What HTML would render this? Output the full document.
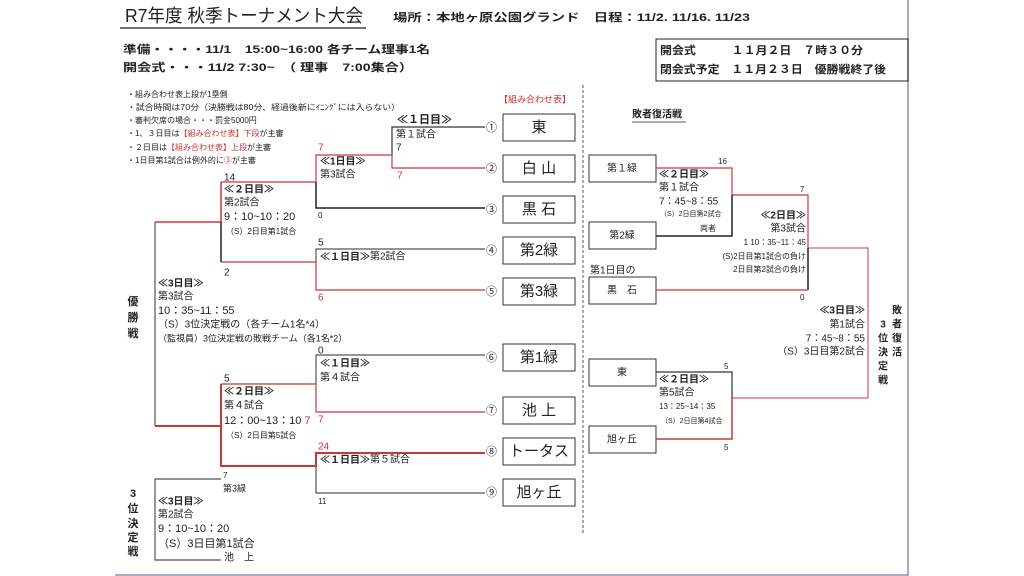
<!DOCTYPE html>
<html><head><meta charset="utf-8">
<style>
html,body{margin:0;padding:0;background:#fff;}
svg{display:block;}
text{font-family:"Liberation Sans","Noto Sans CJK JP",sans-serif;fill:#222;dominant-baseline:middle;}
.b{font-weight:bold;}
.r{fill:#d03030;}
.s{font-size:8px;}
.m{font-size:10px;}
.l{font-size:11px;}
.t{font-size:15px;}
</style></head>
<body>
<svg width="1024" height="576" viewBox="0 0 1024 576" xmlns="http://www.w3.org/2000/svg">
<rect width="1024" height="576" fill="#fff"/>
<line x1="908" y1="0" x2="908" y2="576" stroke="#8890b0" stroke-width="1.5"/>
<line x1="115" y1="575" x2="908" y2="575" stroke="#8890b0" stroke-width="1.5"/>
<text x="125" y="17" style="font-size:18px" textLength="238" lengthAdjust="spacingAndGlyphs">R7年度 秋季トーナメント大会</text>
<line x1="120" y1="28" x2="366" y2="28" stroke="#222" stroke-width="1.2"/>
<text x="393" y="18" class="b" style="font-size:11px" textLength="357" lengthAdjust="spacingAndGlyphs">場所：本地ヶ原公園グランド　日程：11/2. 11/16. 11/23</text>
<text x="123" y="50" class="b l" textLength="307" lengthAdjust="spacingAndGlyphs">準備・・・・11/1　15:00~16:00  各チーム理事1名</text>
<text x="123" y="68" class="b l" textLength="290" lengthAdjust="spacingAndGlyphs">開会式・・・11/2  7:30~　（ 理事　7:00集合）</text>
<rect x="656" y="39" width="252" height="42" fill="none" stroke="#222" stroke-width="1"/>
<text x="660" y="51" class="b l" textLength="203" lengthAdjust="spacingAndGlyphs">開会式　　　１１月２日　７時３０分</text>
<text x="660" y="70" class="b l" textLength="226" lengthAdjust="spacingAndGlyphs">閉会式予定　１１月２３日　優勝戦終了後</text>
<text x="127" y="95" class="s">・組み合わせ表上段が1塁側</text>
<text x="127" y="108" class="s" textLength="273" lengthAdjust="spacingAndGlyphs">・試合時間は70分（決勝戦は80分、経過後新にｲﾆﾝｸﾞには入らない）</text>
<text x="127" y="121" class="s">・審判欠席の場合・・・罰金5000円</text>
<text x="127" y="134" class="s">・1、３日目は<tspan class="r">【組み合わせ表】下段</tspan>が主審</text>
<text x="127" y="148" class="s">・２日目は<tspan class="r">【組み合わせ表】上段</tspan>が主審</text>
<text x="127" y="161" class="s">・1日目第1試合は例外的に<tspan class="r">③</tspan>が主審</text>
<text x="499" y="100" class="r s" style="font-size:9px">【組み合わせ表】</text>
<line x1="583" y1="85" x2="583" y2="535" stroke="#555" stroke-width="1" stroke-dasharray="3,2"/>
<g fill="#fff" stroke="#333" stroke-width="1">
<rect x="503" y="114" width="72" height="27"/>
<rect x="503" y="155" width="72" height="27"/>
<rect x="503" y="196" width="72" height="27"/>
<rect x="503" y="237" width="72" height="27"/>
<rect x="503" y="278" width="72" height="27"/>
<rect x="503" y="344" width="72" height="27"/>
<rect x="503" y="397" width="72" height="27"/>
<rect x="503" y="438" width="72" height="27"/>
<rect x="503" y="479" width="72" height="27"/>
</g>
<g text-anchor="middle">
<text x="539" y="128" class="t">東</text>
<text x="539" y="169" class="t">白 山</text>
<text x="539" y="210" class="t">黒 石</text>
<text x="539" y="251" class="t">第2緑</text>
<text x="539" y="292" class="t">第3緑</text>
<text x="539" y="358" class="t">第1緑</text>
<text x="539" y="411" class="t">池 上</text>
<text x="539" y="452" class="t">トータス</text>
<text x="539" y="493" class="t">旭ヶ丘</text>
</g>
<text x="486" y="128" class="l">①</text><text x="486" y="169" class="l">②</text><text x="486" y="210" class="l">③</text>
<text x="486" y="251" class="l">④</text><text x="486" y="292" class="l">⑤</text><text x="486" y="358" class="l">⑥</text>
<text x="486" y="411" class="l">⑦</text><text x="486" y="452" class="l">⑧</text><text x="486" y="493" class="l">⑨</text>
<g fill="none" stroke-width="1.2">
<path d="M485 127H392V155" stroke="#333"/>
<path d="M392 155V168H485" stroke="#c83838"/>
<path d="M221 182H316V155H392" stroke="#c83838"/>
<path d="M316 182V208H485" stroke="#222" stroke-width="1.5"/>
<path d="M485 249H316V262" stroke="#555"/>
<path d="M316 262V290H485" stroke="#c83838"/>
<path d="M221 262H316" stroke="#c83838"/>
<path d="M155 222H221V182" stroke="#c83838" stroke-width="1.5"/>
<path d="M221 222V262" stroke="#222" stroke-width="1.5"/>
<path d="M155 222V426" stroke="#555"/>
<path d="M155 426H221" stroke="#c83838" stroke-width="2"/>
<path d="M485 355H316V384" stroke="#555"/>
<path d="M316 384V412H485" stroke="#c83838"/>
<path d="M221 384H316" stroke="#c83838"/>
<path d="M221 384V466H316V453H485" stroke="#c83838" stroke-width="2"/>
<path d="M316 466V493H485" stroke="#555"/>
<path d="M221 479H155V560H221" stroke="#555"/>
</g>
<text x="397" y="120" class="b l">≪１日目≫</text>
<text x="396" y="135" class="m">第１試合</text>
<text x="396" y="148" class="m">7</text>
<text x="397" y="176" class="m r">7</text>
<text x="318" y="148" class="m r">7</text>
<text x="320" y="162" class="b m">≪1日目≫</text>
<text x="320" y="175" class="m">第3試合</text>
<text x="318" y="216" class="s">0</text>
<text x="318" y="243" class="m">5</text>
<text x="320" y="257" class="m"><tspan class="b">≪１日目≫</tspan>第2試合</text>
<text x="318" y="298" class="m r">6</text>
<text x="224" y="178" class="m">14</text>
<text x="224" y="190" class="b m">≪２日目≫</text>
<text x="224" y="203" class="m">第2試合</text>
<text x="224" y="217" class="l">9：10~10：20</text>
<text x="226" y="232" class="s">（S）2日目第1試合</text>
<text x="224" y="273" class="m">2</text>
<text x="158" y="284" class="b m">≪3日目≫</text>
<text x="158" y="297" class="m">第3試合</text>
<text x="158" y="311" class="l">10：35~11：55</text>
<text x="158" y="325" class="m">（S）3位決定戦の（各チーム1名*4）</text>
<text x="158" y="339" class="s" style="font-size:9px">（監視員）3位決定戦の敗戦チーム（各1名*2）</text>
<g text-anchor="middle">
<text x="133" y="302" class="b l">優</text><text x="133" y="318" class="b l">勝</text><text x="133" y="334" class="b l">戦</text>
<text x="133" y="494" class="b l">3</text><text x="133" y="509" class="b l">位</text><text x="133" y="524" class="b l">決</text><text x="133" y="538" class="b l">定</text><text x="133" y="552" class="b l">戦</text>
</g>
<text x="318" y="351" class="m">0</text>
<text x="320" y="364" class="b m">≪１日目≫</text>
<text x="320" y="378" class="m">第４試合</text>
<text x="318" y="420" class="m r">7</text>
<text x="224" y="379" class="m">5</text>
<text x="224" y="392" class="b m">≪２日目≫</text>
<text x="224" y="406" class="m">第４試合</text>
<text x="224" y="421" class="l">12：00~13：10 <tspan class="r">7</tspan></text>
<text x="226" y="436" class="s">（S）2日目第5試合</text>
<text x="318" y="447" class="m r">24</text>
<text x="320" y="460" class="m"><tspan class="b">≪１日目≫</tspan>第５試合</text>
<text x="318" y="502" class="s">11</text>
<text x="223" y="476" class="s">7</text>
<text x="223" y="489" class="s" style="font-size:9px">第3緑</text>
<text x="158" y="502" class="b m">≪3日目≫</text>
<text x="158" y="515" class="m">第2試合</text>
<text x="158" y="529" class="l">9：10~10：20</text>
<text x="158" y="544" class="l">（S）3日目第1試合</text>
<text x="224" y="558" class="m">池　上</text>
<text x="632" y="115" class="b m">敗者復活戦</text>
<line x1="632" y1="122" x2="686" y2="122" stroke="#222" stroke-width="0.8"/>
<g fill="#fff" stroke="#333" stroke-width="1">
<rect x="589" y="155" width="67" height="27"/>
<rect x="589" y="222" width="67" height="27"/>
<rect x="589" y="277" width="67" height="27"/>
<rect x="589" y="359" width="67" height="27"/>
<rect x="589" y="426" width="67" height="27"/>
</g>
<g text-anchor="middle">
<text x="622" y="169" class="m">第１緑</text>
<text x="622" y="236" class="m">第2緑</text>
<text x="622" y="291" class="m">黒　石</text>
<text x="622" y="373" class="m">東</text>
<text x="622" y="440" class="m">旭ヶ丘</text>
</g>
<text x="590" y="271" class="m">第1日目の</text>
<g fill="none" stroke-width="1.2">
<path d="M656 168H732V195H808V248" stroke="#c83838"/>
<path d="M656 236H732V195" stroke="#222" stroke-width="1.5"/>
<path d="M808 248V290" stroke="#222" stroke-width="1.5"/>
<path d="M656 290H808" stroke="#c83838"/>
<path d="M808 248H868V398H732" stroke="#c83838" stroke-width="1"/>
<path d="M656 372H732V398" stroke="#333"/>
<path d="M732 398V439H656" stroke="#c83838" stroke-width="1.5"/>
</g>
<text x="718" y="162" class="s">16</text>
<text x="659" y="175" class="b m">≪２日目≫</text>
<text x="659" y="188" class="m">第１試合</text>
<text x="659" y="202" class="m">7：45~8：55</text>
<text x="660" y="214" class="s" style="font-size:7px">（S）2日目第2試合</text>
<text x="700" y="229" class="s">両者</text>
<text x="800" y="190" class="s">7</text>
<g text-anchor="end">
<text x="806" y="216" class="b m">≪2日目≫</text>
<text x="806" y="229" class="m">第3試合</text>
<text x="806" y="243" class="s">1 10：35~11：45</text>
<text x="806" y="257" class="s">(S)2日目第1試合の負け</text>
<text x="806" y="270" class="s">2日目第2試合の負け</text>
<text x="865" y="311" class="b m">≪3日目≫</text>
<text x="865" y="325" class="m">第1試合</text>
<text x="865" y="339" class="m">7：45~8：55</text>
<text x="865" y="352" class="m">（S）3日目第2試合</text>
</g>
<text x="800" y="298" class="s">0</text>
<g text-anchor="middle">
<text x="897" y="311" class="b m">敗</text><text x="897" y="325" class="b m">者</text><text x="897" y="339" class="b m">復</text><text x="897" y="353" class="b m">活</text>
<text x="883" y="325" class="b m">3</text><text x="883" y="339" class="b m">位</text><text x="883" y="353" class="b m">決</text><text x="883" y="367" class="b m">定</text><text x="883" y="381" class="b m">戦</text>
</g>
<text x="724" y="367" class="s">5</text>
<text x="659" y="380" class="b m">≪２日目≫</text>
<text x="659" y="393" class="m">第5試合</text>
<text x="659" y="407" class="s">13：25~14：35</text>
<text x="661" y="421" class="s" style="font-size:7px">（S）2日目第4試合</text>
<text x="724" y="448" class="s">5</text>
</svg>
</body></html>
